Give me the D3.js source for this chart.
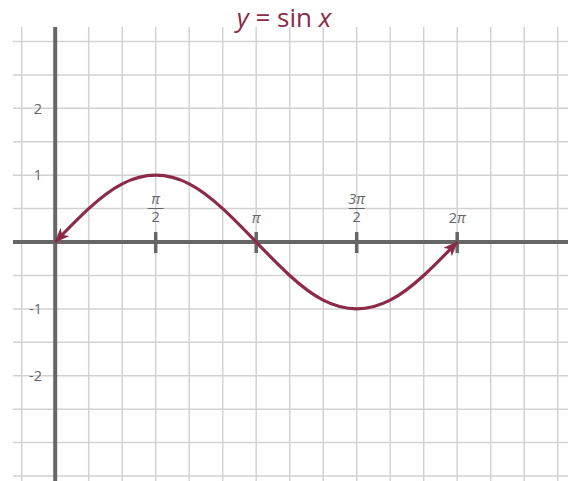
<!DOCTYPE html>
<html>
<head>
<meta charset="utf-8">
<script src="https://cdn.jsdelivr.net/npm/d3@7"></script>
<style>
	html, body { margin: 0; padding: 0; background: #fff; }
	svg { display: block; font-family: "Open Sans", sans-serif; }
</style>
</head>
<body>
<div id="chart"></div>
<script>
	// 曲線上の点 (x は π/6 刻み, y は図から読んだ値)
	var curveX = [0, 1, 2, 3, 4, 5, 6, 7, 8, 9, 10, 11, 12];
	var curveY = [0, 0.5, 0.87, 1, 0.87, 0.5, 0, -0.5, -0.87, -1, -0.87, -0.5, 0];

	// 目盛り
	var xTickUnits = [3, 6, 9, 12];               // π/6 単位
	var xTickNum = ['π', 'π', '3π', '2π'];
	var xTickDen = ['2', '', '2', ''];
	var yTicks = [2, 1, -1, -2];
	var yTickLabels = ['2', '1', '-1', '-2'];

	var width = 568, height = 481;
	var step = Math.PI / 6;
	var curveColor = '#8c2b48';
	var axisColor = '#666';

	var svg = d3.select('#chart').append('svg')
		.attr('width', width)
		.attr('height', height);

	var x = d3.scaleLinear().domain([-Math.PI / 6, 2.5 * Math.PI]).range([21.7, 557.7]);
	var y = d3.scaleLinear().domain([3, -3.5]).range([41.5, 476]);

	// グリッド
	var grid = svg.append('g').attr('stroke', '#d2d2d2').attr('stroke-width', 1.5);
	grid.selectAll('line.v')
		.data(d3.range(-1, 16))
		.enter().append('line')
		.attr('x1', d => x(d * step)).attr('x2', d => x(d * step))
		.attr('y1', 27).attr('y2', height);
	grid.selectAll('line.h')
		.data(d3.range(-7, 7))
		.enter().append('line')
		.attr('y1', d => y(d / 2)).attr('y2', d => y(d / 2))
		.attr('x1', 13).attr('x2', width);

	// 軸
	svg.append('line')
		.attr('x1', 13).attr('x2', width)
		.attr('y1', y(0)).attr('y2', y(0))
		.attr('stroke', axisColor).attr('stroke-width', 4);
	svg.append('line')
		.attr('x1', x(0)).attr('x2', x(0))
		.attr('y1', 27).attr('y2', height)
		.attr('stroke', axisColor).attr('stroke-width', 4);

	// x 目盛り
	svg.selectAll('line.xtick')
		.data(xTickUnits)
		.enter().append('line')
		.attr('x1', d => x(d * step)).attr('x2', d => x(d * step))
		.attr('y1', y(0) - 10).attr('y2', y(0) + 11)
		.attr('stroke', axisColor).attr('stroke-width', 3.5);

	var xl = svg.selectAll('g.xlab')
		.data(xTickUnits)
		.enter().append('g')
		.attr('transform', d => 'translate(' + x(d * step) + ',0)')
		.attr('fill', axisColor)
		.attr('font-size', 14.5)
		.attr('text-anchor', 'middle');
	xl.each(function(d, i) {
		var g = d3.select(this);
		if (xTickDen[i]) {
			g.append('text').attr('y', 204).attr('font-style', 'italic').text(xTickNum[i]);
			g.append('line').attr('x1', -8).attr('x2', 8).attr('y1', 208.5).attr('y2', 208.5)
				.attr('stroke', axisColor).attr('stroke-width', 1);
			g.append('text').attr('y', 222).text(xTickDen[i]);
		} else {
			var t = g.append('text').attr('y', 223);
			var m = xTickNum[i].match(/^(\d*)(π)$/);
			if (m[1]) t.append('tspan').text(m[1]);
			t.append('tspan').attr('font-style', 'italic').text(m[2]);
		}
	});

	// y 目盛りラベル
	svg.selectAll('text.ylab')
		.data(yTicks)
		.enter().append('text')
		.attr('x', 42)
		.attr('y', d => y(d))
		.attr('dy', '0.36em')
		.attr('text-anchor', 'end')
		.attr('fill', axisColor)
		.attr('font-size', 14.5)
		.text((d, i) => yTickLabels[i]);

	// 矢印
	var defs = svg.append('defs');
	defs.append('marker')
		.attr('id', 'arrow')
		.attr('viewBox', '0 0 15 12')
		.attr('refX', 14).attr('refY', 6)
		.attr('markerWidth', 15).attr('markerHeight', 12)
		.attr('markerUnits', 'userSpaceOnUse')
		.attr('orient', 'auto-start-reverse')
		.append('path')
		.attr('d', 'M0,0 L15,6 L0,12 L4,6 Z')
		.attr('fill', curveColor);

	var line = d3.line()
		.x(d => x(d[0] * step))
		.y(d => y(d[1]))
		.curve(d3.curveNatural);

	svg.append('path')
		.datum(curveX.map((d, i) => [d, curveY[i]]))
		.attr('d', line)
		.attr('fill', 'none')
		.attr('stroke', curveColor)
		.attr('stroke-width', 3.2)
		.attr('marker-start', 'url(#arrow)')
		.attr('marker-end', 'url(#arrow)');

	// タイトル
	var title = svg.append('text')
		.attr('x', 284).attr('y', 27)
		.attr('text-anchor', 'middle')
		.attr('fill', curveColor)
		.attr('font-size', 26);
	title.append('tspan').attr('font-style', 'italic').text('y');
	title.append('tspan').text(' = sin ');
	title.append('tspan').attr('font-style', 'italic').text('x');
</script>
</body>
</html>
